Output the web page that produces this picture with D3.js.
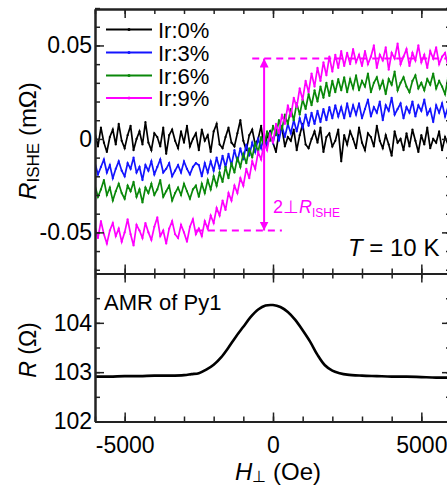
<!DOCTYPE html>
<html>
<head>
<meta charset="utf-8">
<script src="https://cdn.jsdelivr.net/npm/d3@7"></script>
<style>
html,body{margin:0;padding:0;background:#fff;}
svg{display:block;font-family:"Liberation Sans",Arial,sans-serif;}
</style>
</head>
<body>
<svg id="chart" width="447" height="486"></svg>
<script>
// ---------------- DATA ----------------
// sampling grid of the ISHE sweeps (Oe)
const fieldOe = d3.range(-6000, 6001, 100);
// R_ISHE values in micro-ohm (x1e-3 mΩ)
const ir0 = [
 3,-4,6,-2,-7,1,5,-3,8,-1,
 -5,2,7,-6,0,4,-3,9,-2,-6,
 3,1,-4,6,-8,2,5,-1,-5,4,
 -2,7,-4,0,3,-6,5,-1,2,-7,
 4,8,-3,-5,1,6,-2,-4,3,10,
 -1,-6,2,5,-3,0,7,-5,1,4,
 -2,-7,3,6,-4,1,-1,5,-6,2,
 8,-3,-5,0,4,-2,6,-7,1,3,
 -4,-1,5,-12,2,-3,4,0,-5,6,
 -2,-6,3,1,-4,7,-1,-5,2,-3,
 -9,4,-2,0,-6,3,-4,5,-1,-7,
 2,-3,6,-5,0,-2,4,-6,1,-3,
 3];
const ir3 = [
 -13,-19,-15,-11,-18,-14,-21,-16,-12,-17,
 -20,-13,-16,-10,-18,-15,-22,-14,-17,-12,
 -19,-15,-11,-18,-16,-13,-20,-17,-14,-18,
 -12,-16,-19,-15,-13,
 -14,-20,-13,-18,-12,-17,-10,-16,-9,-15,
 -8,-14,-6,-12,-5,-11,-3,-9,-2,-7,
 0,-5,2,-4,3,-2,5,-1,7,1,
 8,3,10,4,11,6,13,7,14,8,
 15,9,16,10,17,11,18,12,17,11,
 19,12,18,13,19,11,
 16,21,12,17,14,20,10,18,15,22,
 13,16,19,11,17,14,20,12,18,15,
 21,13,16,9,18,14,19,12,17,15];
const ir6 = [
 -25,-31,-27,-22,-30,-26,-33,-28,-24,-29,
 -32,-25,-28,-23,-31,-27,-34,-26,-29,-24,
 -30,-27,-22,-31,-28,-25,-33,-29,-26,-30,
 -24,-28,-32,-27,-25,
 -31,-24,-29,-22,-27,-20,-25,-18,-23,-15,
 -21,-13,-18,-10,-15,-8,-13,-5,-10,-2,
 -7,1,-4,4,-1,7,2,10,5,13,
 8,16,10,19,13,21,16,24,18,26,
 20,28,22,30,23,31,25,32,26,33,
 25,32,27,34,26,31,
 28,35,25,30,33,27,31,24,32,29,
 36,26,30,33,28,25,31,34,27,30,
 26,32,29,35,27,31,28,24,33,29];
const ir9 = [
 -47,-53,-44,-51,-56,-49,-45,-52,-48,-55,
 -50,-43,-51,-57,-46,-49,-53,-45,-50,-54,
 -47,-42,-52,-49,-56,-48,-44,-51,-53,-46,
 -50,-55,-47,-43,-51,
 -48,-52,-44,-48,-41,-45,-37,-41,-33,-38,
 -29,-33,-25,-29,-21,-25,-16,-21,-12,-16,
 -7,-11,-2,-6,3,-2,8,3,13,8,
 18,12,22,17,27,21,31,25,35,28,
 38,31,41,34,44,36,45,38,47,39,
 46,40,48,41,45,39,
 47,40,44,50,38,45,42,49,37,46,
 43,51,40,44,48,39,46,42,50,41,
 45,38,47,43,49,40,44,46,39,45];
const seriesNames = ["Ir:0%","Ir:3%","Ir:6%","Ir:9%"];
const seriesColors = ["#000000","#1414ff","#0a880a","#ff00ff"];
// AMR of Py1
const amrField = [-6000,-5500,-5000,-4500,-4000,-3500,-3000,-2750,-2500,-2250,-2000,-1750,-1500,-1250,-1000,-750,-500,-250,0,250,500,750,1000,1250,1500,1750,2000,2250,2500,3000,3500,4000,4500,5000,5500,6000];
const amrR = [102.91,102.91,102.92,102.92,102.93,102.93,102.94,102.96,102.98,103.05,103.15,103.30,103.50,103.72,103.92,104.12,104.27,104.35,104.36,104.32,104.22,104.06,103.85,103.62,103.35,103.14,103.03,102.98,102.95,102.93,102.92,102.91,102.91,102.90,102.89,102.89];
// annotation levels (micro-ohm) and arrow field
const ishePlus = 43, isheMinus = -49, arrowField = -300;
// ticks
const xTicks = [-5000, 0, 5000];
const xTickLabels = ["-5000", "0", "5000"];
const xMinor = d3.range(-6000, 6001, 1000);
const topYTicks = [-50, 0, 50];
const topYTickLabels = ["-0.05", "0", "0.05"];
const topYMinor = d3.range(-70, 71, 10);
const botYTicks = [102, 103, 104];
const botYTickLabels = ["102", "103", "104"];
const botYMinor = d3.range(102, 105.01, 0.5);

// ---------------- LAYOUT ----------------
const svg = d3.select("#chart");
const L = 95, R = 451, T1 = 9, B1 = 273.5, T2 = 273.5, B2 = 421.5;
const x = d3.scaleLinear().domain([-6000, 6000]).range([L, R]);
const y1 = d3.scaleLinear().domain([-72, 69.5]).range([B1, T1]);
const y2 = d3.scaleLinear().domain([102, 105]).range([B2, T2]);
const axisColor = "#222";
const FONT = "Liberation Sans, Arial, sans-serif";

const defs = svg.append("defs");
defs.append("clipPath").attr("id", "c1").append("rect")
  .attr("x", L).attr("y", T1).attr("width", R - L).attr("height", B1 - T1);
defs.append("clipPath").attr("id", "c2").append("rect")
  .attr("x", L).attr("y", T2).attr("width", R - L).attr("height", B2 - T2);
defs.append("marker").attr("id", "arr").attr("markerUnits", "userSpaceOnUse")
  .attr("markerWidth", 10).attr("markerHeight", 10).attr("refX", 9).attr("refY", 4.5)
  .attr("orient", "auto-start-reverse")
  .append("path").attr("d", "M0,0 L9,4.5 L0,9 Z").attr("fill", "#ff00ff");

// ------------- TOP PANEL: annotation (behind data) -------------
const ann = svg.append("g").attr("clip-path", "url(#c1)");
ann.append("line")
  .attr("x1", x(-700)).attr("x2", x(6000)).attr("y1", y1(ishePlus)).attr("y2", y1(ishePlus))
  .attr("stroke", "#ff00ff").attr("stroke-width", 2).attr("stroke-dasharray", "7,5");
ann.append("line")
  .attr("x1", x(-2600)).attr("x2", x(300)).attr("y1", y1(isheMinus)).attr("y2", y1(isheMinus))
  .attr("stroke", "#ff00ff").attr("stroke-width", 2).attr("stroke-dasharray", "7,5");

// ------------- TOP PANEL: data -------------
const dataG = svg.append("g").attr("clip-path", "url(#c1)");
const series = [ir0, ir3, ir6, ir9];
const line1 = d3.line().x((d, i) => x(fieldOe[i])).y(d => y1(d));
series.forEach((s, k) => {
  dataG.append("path").datum(s).attr("d", line1)
    .attr("fill", "none").attr("stroke", seriesColors[k])
    .attr("stroke-width", 1.7).attr("stroke-linejoin", "miter");
  dataG.selectAll(null).data(s).enter().append("circle")
    .attr("cx", (d, i) => x(fieldOe[i])).attr("cy", d => y1(d)).attr("r", 1.1)
    .attr("fill", seriesColors[k]);
});

// arrow (over data)
svg.append("line")
  .attr("x1", x(arrowField)).attr("x2", x(arrowField))
  .attr("y1", y1(ishePlus)).attr("y2", y1(isheMinus))
  .attr("stroke", "#ff00ff").attr("stroke-width", 2)
  .attr("marker-start", "url(#arr)").attr("marker-end", "url(#arr)");
const annT = svg.append("text").attr("x", 273).attr("y", 213)
  .attr("fill", "#ff00ff").attr("font-size", 18).attr("font-family", FONT);
annT.append("tspan").text("2⊥");
annT.append("tspan").attr("font-style", "italic").text("R");
annT.append("tspan").attr("font-size", 12).attr("dy", 4).text("ISHE");

// T = 10 K
const tt = svg.append("text").attr("x", 348).attr("y", 256)
  .attr("font-size", 24).attr("font-family", FONT).attr("fill", "#000");
tt.append("tspan").attr("font-style", "italic").text("T");
tt.append("tspan").text(" = 10 K");

// legend
const legRows = [29.5, 52.5, 75.5, 98];
seriesNames.forEach((n, k) => {
  const g = svg.append("g");
  g.append("line").attr("x1", 106).attr("x2", 152).attr("y1", legRows[k]).attr("y2", legRows[k])
    .attr("stroke", seriesColors[k]).attr("stroke-width", 2);
  g.append("circle").attr("cx", 129).attr("cy", legRows[k]).attr("r", 1.5).attr("fill", seriesColors[k]);
  g.append("text").attr("x", 158).attr("y", legRows[k] + 8)
    .attr("font-size", 22).attr("font-family", FONT).attr("fill", "#000").text(n);
});

// ------------- BOTTOM PANEL -------------
const line2 = d3.line().x((d, i) => x(amrField[i])).y(d => y2(d)).curve(d3.curveCatmullRom.alpha(0.5));
svg.append("g").attr("clip-path", "url(#c2)").append("path").datum(amrR).attr("d", line2)
  .attr("fill", "none").attr("stroke", "#000").attr("stroke-width", 2.6);
svg.append("text").attr("x", 104).attr("y", 310).attr("font-size", 22)
  .attr("font-family", FONT).attr("fill", "#000").text("AMR of Py1");

// ------------- AXES -------------
function styleAxis(g) {
  g.selectAll("path.domain").attr("stroke", axisColor).attr("stroke-width", 2);
  g.selectAll(".tick line").attr("stroke", axisColor).attr("stroke-width", 1.5);
  g.selectAll(".tick text").attr("font-size", 23).attr("font-family", FONT).attr("fill", "#000");
  g.attr("font-family", null).attr("font-size", null);
}
function addAxis(axisFn, scale, transform, majors, labels, minors, showLabels, pad) {
  const gm = svg.append("g").attr("transform", transform);
  gm.call(axisFn(scale).tickValues(minors).tickSize(-5).tickSizeOuter(0).tickFormat(""));
  styleAxis(gm);
  const g = svg.append("g").attr("transform", transform);
  g.call(axisFn(scale).tickValues(majors).tickSize(-9).tickSizeOuter(0).tickPadding(pad || 3)
    .tickFormat((d, i) => showLabels ? labels[i] : ""));
  styleAxis(g);
  return g;
}
// top panel
addAxis(d3.axisTop, x, `translate(0,${T1})`, xTicks, xTickLabels, xMinor, false);
addAxis(d3.axisBottom, x, `translate(0,${B1})`, xTicks, xTickLabels, xMinor, false);
addAxis(d3.axisLeft, y1, `translate(${L},0)`, topYTicks, topYTickLabels, topYMinor, true, 3);
addAxis(d3.axisRight, y1, `translate(${R},0)`, topYTicks, topYTickLabels, topYMinor, false);
// bottom panel
addAxis(d3.axisTop, x, `translate(0,${T2})`, xTicks, xTickLabels, xMinor, false);
addAxis(d3.axisBottom, x, `translate(0,${B2})`, xTicks, xTickLabels, xMinor, true, 15);
addAxis(d3.axisLeft, y2, `translate(${L},0)`, botYTicks, botYTickLabels, botYMinor, true, 3);
addAxis(d3.axisRight, y2, `translate(${R},0)`, botYTicks, botYTickLabels, botYMinor, false);

// ------------- AXIS TITLES -------------
const yl1 = svg.append("text").attr("transform", "translate(36,141) rotate(-90)")
  .attr("text-anchor", "middle").attr("font-size", 24).attr("font-family", FONT).attr("fill", "#000");
yl1.append("tspan").attr("font-style", "italic").text("R");
yl1.append("tspan").attr("font-size", 17).attr("dy", 3).text("ISHE");
yl1.append("tspan").attr("dy", -3).text(" (mΩ)");

const yl2 = svg.append("text").attr("transform", "translate(36,350) rotate(-90)")
  .attr("text-anchor", "middle").attr("font-size", 23).attr("font-family", FONT).attr("fill", "#000");
yl2.append("tspan").attr("font-style", "italic").text("R");
yl2.append("tspan").text(" (Ω)");

const xl = svg.append("text").attr("x", 278).attr("y", 480)
  .attr("text-anchor", "middle").attr("font-size", 24).attr("font-family", FONT).attr("fill", "#000");
xl.append("tspan").attr("font-style", "italic").text("H");
xl.append("tspan").attr("font-size", 16).attr("dy", 2).text("⊥");
xl.append("tspan").attr("dy", -2).text(" (Oe)");
</script>
</body>
</html>
